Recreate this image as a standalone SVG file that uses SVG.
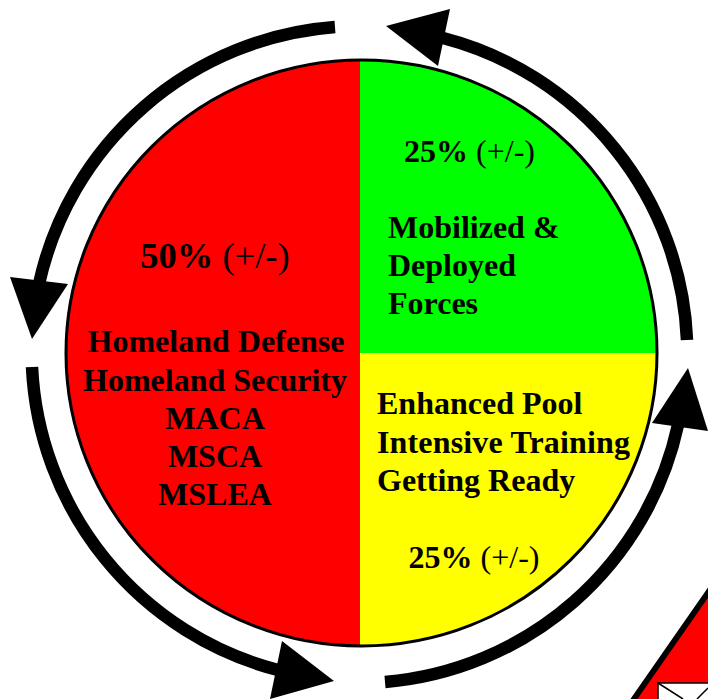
<svg xmlns="http://www.w3.org/2000/svg" width="708" height="699" viewBox="0 0 708 699">
<style>
.t{font-family:"Liberation Serif","Times New Roman",serif;font-weight:bold;fill:#000;font-size:32px}
.n{font-weight:normal}
.m{text-anchor:middle}
.a{fill:none;stroke:#000;stroke-width:12.500}
</style>
<rect width="708" height="699" fill="#fff"/>
<g id="pie">
<path d="M360 60A295 293 0 0 0 360 646Z" fill="#f00"/>
<path d="M360 60A297 293 0 0 1 657 353H360Z" fill="#0f0"/>
<path d="M360 353H657A297 293 0 0 1 360 646Z" fill="#ff0"/>
<ellipse cx="361.500" cy="353" rx="295.500" ry="293" fill="none" stroke="#000" stroke-width="3"/>
</g>
<g id="connectors">
<path class="a" d="M687 340A326 326 0 0 0 443 38"/>
<polygon points="386,26 450,9 438,66"/>
<path class="a" d="M335 27A328 328 0 0 0 39 284"/>
<polygon points="32,339 10,277 68,284"/>
<path class="a" d="M32 367A329 329 0 0 0 278 670"/>
<polygon points="334,681 282,641 270,699"/>
<path class="a" d="M385 682A328 328 0 0 0 678 425"/>
<polygon points="688,368 652,423 708,431"/>
</g>
<g id="label-red">
<text class="t m" x="215" y="268" style="font-size:36.500px">50% <tspan class="n">(+/-)</tspan></text>
<text class="t m" x="216" y="352">Homeland Defense</text>
<text class="t m" x="215" y="391">Homeland Security</text>
<text class="t m" x="215" y="429">MACA</text>
<text class="t m" x="215" y="467">MSCA</text>
<text class="t m" x="215" y="505">MSLEA</text>
</g>
<g id="label-green">
<text class="t m" x="469.500" y="162">25% <tspan class="n">(+/-)</tspan></text>
<text class="t" x="388" y="238">Mobilized &amp;</text>
<text class="t" x="388" y="276">Deployed</text>
<text class="t" x="388" y="314">Forces</text>
</g>
<g id="label-yellow">
<text class="t" x="377" y="414">Enhanced Pool</text>
<text class="t" x="377" y="453" textLength="253">Intensive Training</text>
<text class="t" x="377" y="491">Getting Ready</text>
<text class="t m" x="474" y="568">25% <tspan class="n">(+/-)</tspan></text>
</g>
<g id="corner-sign">
<polygon points="762,515 620,719 900,719" fill="#f00" stroke="#000" stroke-width="5.800"/>
<rect x="658" y="683" width="60" height="30" fill="#fff" stroke="#000" stroke-width="1.500"/>
<path d="M658 683L683 699M708 688L697 699" fill="none" stroke="#000" stroke-width="1.500"/>
</g>
</svg>
